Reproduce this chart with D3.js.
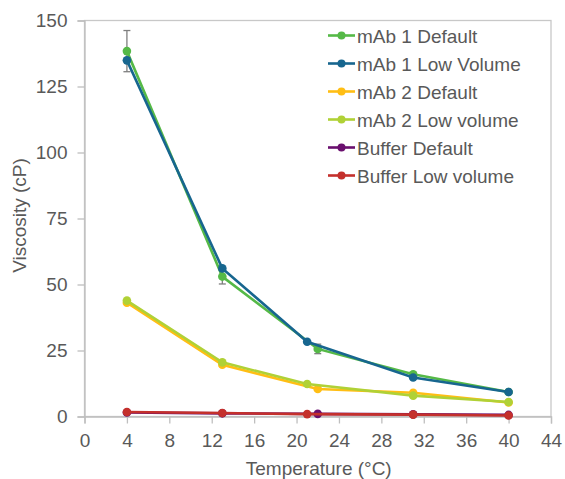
<!DOCTYPE html>
<html>
<head>
<meta charset="utf-8">
<script src="https://cdn.jsdelivr.net/npm/d3@7"></script>
<style>
  body { margin: 0; background: #fff; }
  svg text { font-family: "Liberation Sans", Arial, sans-serif; fill: #595959; }
</style>
</head>
<body>
<div id="chart"></div>
<script>
// data
const seriesNames = ["mAb 1 Default", "mAb 1 Low Volume", "mAb 2 Default", "mAb 2 Low volume", "Buffer Default", "Buffer Low volume"];
const seriesColors = ["#55b947", "#17668f", "#ffbe14", "#b0d136", "#6a0f6e", "#c4302c"];

const tempDefault = [4, 13, 22, 31, 40];
const tempLow = [4, 13, 21, 31, 40];

const mab1Default = [138.4, 53, 25.6, 16, 9.3];
const mab1DefaultErr = [7.8, 2.8, 1.8, 0.6, 0.4];
const mab1Low = [134.9, 56.1, 28.3, 14.8, 9.3];
const mab2Default = [43.1, 19.6, 10.4, 9.0, 5.3];
const mab2Low = [43.9, 20.5, 12.3, 7.9, 5.5];
const bufDefault = [1.5, 1.2, 1.0, 0.8, 0.6];
const bufLow = [1.7, 1.3, 0.9, 0.7, 0.4];

const xTicks = [0, 4, 8, 12, 16, 20, 24, 28, 32, 36, 40, 44];
const yTicks = [0, 25, 50, 75, 100, 125, 150];

const seriesX = [tempDefault, tempLow, tempDefault, tempLow, tempDefault, tempLow];
const seriesY = [mab1Default, mab1Low, mab2Default, mab2Low, bufDefault, bufLow];

const width = 565, height = 479;
const margin = {top: 20.5, right: 14, bottom: 62.5, left: 84.5};
const w = width - margin.left - margin.right,
      h = height - margin.top - margin.bottom;

const svg = d3.select("#chart").append("svg")
  .attr("width", width)
  .attr("height", height);

const g = svg.append("g")
  .attr("transform", "translate(" + margin.left + "," + margin.top + ")");

const xScale = d3.scaleLinear().domain([0, 44]).range([0, w]);
const yScale = d3.scaleLinear().domain([0, 150]).range([h, 0]);

// plot frame
g.append("rect")
  .attr("width", w).attr("height", h)
  .attr("fill", "none")
  .attr("stroke", "#c8c8c8")
  .attr("stroke-width", 1.3);

const xAxis = g.append("g")
  .attr("transform", "translate(0," + h + ")")
  .call(d3.axisBottom(xScale).tickValues(xTicks).tickSize(7).tickPadding(10));
const yAxis = g.append("g")
  .call(d3.axisLeft(yScale).tickValues(yTicks).tickSize(7).tickPadding(10));

[xAxis, yAxis].forEach(a => {
  a.select(".domain").attr("stroke", "#bfbfbf").attr("stroke-width", 1.3);
  a.selectAll(".tick line").attr("stroke", "#bfbfbf").attr("stroke-width", 1.3);
  a.selectAll(".tick text")
    .style("font-family", "Liberation Sans, Arial, sans-serif")
    .style("font-size", "19px")
    .attr("fill", "#595959");
});

// axis titles
svg.append("text")
  .attr("x", margin.left + w / 2 + 1)
  .attr("y", 475)
  .attr("text-anchor", "middle")
  .style("font-size", "19px")
  .text("Temperature (°C)");

svg.append("text")
  .attr("transform", "translate(26," + (margin.top + h / 2 - 3) + ")rotate(-90)")
  .attr("text-anchor", "middle")
  .style("font-size", "19px")
  .text("Viscosity (cP)");

// error bars for mAb 1 Default
const errG = g.append("g");
tempDefault.forEach((t, i) => {
  const x = xScale(t), y0 = yScale(mab1Default[i] - mab1DefaultErr[i]), y1 = yScale(mab1Default[i] + mab1DefaultErr[i]);
  errG.append("line").attr("x1", x).attr("x2", x).attr("y1", y0).attr("y2", y1)
    .attr("stroke", "#7f7f7f").attr("stroke-width", 1.3);
  [y0, y1].forEach(yy => {
    errG.append("line").attr("x1", x - 3.5).attr("x2", x + 3.5).attr("y1", yy).attr("y2", yy)
      .attr("stroke", "#7f7f7f").attr("stroke-width", 1.3);
  });
});

const line = d3.line()
  .x(d => xScale(d[0]))
  .y(d => yScale(d[1]));

// draw series in order, later ones on top
const order = [4, 5, 2, 3, 0, 1];
order.forEach(k => {
  const pts = seriesX[k].map((t, i) => [t, seriesY[k][i]]);
  g.append("path")
    .datum(pts)
    .attr("fill", "none")
    .attr("stroke", seriesColors[k])
    .attr("stroke-width", 2.6)
    .attr("d", line);
  g.selectAll(null)
    .data(pts)
    .enter().append("circle")
    .attr("cx", d => xScale(d[0]))
    .attr("cy", d => yScale(d[1]))
    .attr("r", 4.3)
    .attr("fill", seriesColors[k]);
});

// legend
const legend = svg.append("g").attr("transform", "translate(328,35.5)");
seriesNames.forEach((name, i) => {
  const row = legend.append("g").attr("transform", "translate(0," + i * 28 + ")");
  row.append("line").attr("x1", 0).attr("x2", 27).attr("y1", 0).attr("y2", 0)
    .attr("stroke", seriesColors[i]).attr("stroke-width", 2.6);
  row.append("circle").attr("cx", 13.5).attr("cy", 0).attr("r", 4).attr("fill", seriesColors[i]);
  row.append("text").attr("x", 29).attr("y", 7)
    .style("font-size", "19px")
    .text(name);
});
</script>
</body>
</html>
